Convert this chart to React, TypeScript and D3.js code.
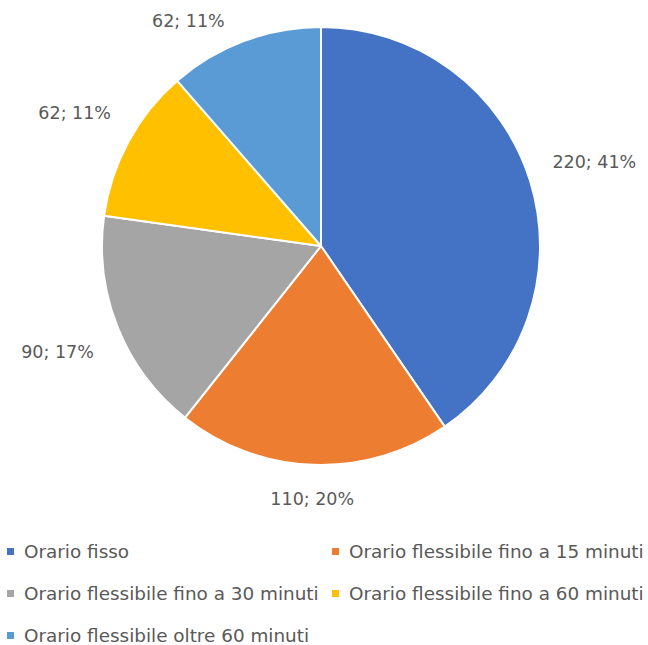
import React from "react";
import * as d3 from "d3";

const categories = [
  "Orario fisso",
  "Orario flessibile fino a 15 minuti",
  "Orario flessibile fino a 30 minuti",
  "Orario flessibile fino a 60 minuti",
  "Orario flessibile oltre 60 minuti",
];
const values = [220, 110, 90, 62, 62];
const percentLabels = ["41%", "20%", "17%", "11%", "11%"];
const colors = ["#4472C4", "#ED7D31", "#A5A5A5", "#FFC000", "#5B9BD5"];

const W = 648;
const H = 645;
const CX = 321;
const CY = 246;
const R = 219;
const LABEL_RX = R + 71;
const LABEL_RY = R + 34;
const LABEL_MIN_Y = 21; // keep labels inside the chart area (center y)
const TEXT = "#595959";
const FONT = "'DejaVu Sans', sans-serif";

export default function App() {
  const pie = d3
    .pie<number>()
    .sort(null)
    .value((d) => d)
    .startAngle(0)
    .endAngle(2 * Math.PI);
  const arcs = pie(values);
  const arcGen = d3.arc<d3.PieArcDatum<number>>().innerRadius(0).outerRadius(R);

  const legendCols = [7, 332];
  const legendRows = [558, 600, 642];

  const labelPos = (a: d3.PieArcDatum<number>) => {
    const mid = (a.startAngle + a.endAngle) / 2;
    const ux = Math.sin(mid);
    const uy = -Math.cos(mid);
    const t = 1 / Math.sqrt((ux / LABEL_RX) ** 2 + (uy / LABEL_RY) ** 2);
    let x = ux * t;
    let y = uy * t;
    const minY = LABEL_MIN_Y - CY;
    if (y < minY) {
      y = minY;
      const k = 1 - (y / LABEL_RY) ** 2;
      x = Math.sign(ux) * LABEL_RX * Math.sqrt(Math.max(0, k));
    }
    return [x, y];
  };

  return (
    <svg
      width={W}
      height={H}
      style={{ position: "absolute", left: 0, top: 0, background: "#fff" }}
    >
      <rect x={0} y={0} width={W} height={H} fill="#fff" />
      <g transform={`translate(${CX},${CY})`}>
        {arcs.map((a, i) => (
          <path
            key={i}
            d={arcGen(a) || ""}
            fill={colors[i]}
            stroke="#fff"
            strokeWidth={2}
            strokeLinejoin="round"
          />
        ))}
        {arcs.map((a, i) => {
          const [x, y] = labelPos(a);
          return (
            <text
              key={i}
              x={x}
              y={y}
              dy="0.36em"
              textAnchor="middle"
              fontFamily={FONT}
              fontSize={17.5}
              fill={TEXT}
            >
              {`${values[i]}; ${percentLabels[i]}`}
            </text>
          );
        })}
      </g>
      <g>
        {categories.map((c, i) => {
          const x = legendCols[i % 2];
          const y = legendRows[Math.floor(i / 2)];
          return (
            <g key={c}>
              <rect x={x} y={y - 10} width={7} height={7} fill={colors[i]} />
              <text
                x={x + 17}
                y={y}
                fontFamily={FONT}
                fontSize={18.4}
                fill={TEXT}
              >
                {c}
              </text>
            </g>
          );
        })}
      </g>
    </svg>
  );
}
